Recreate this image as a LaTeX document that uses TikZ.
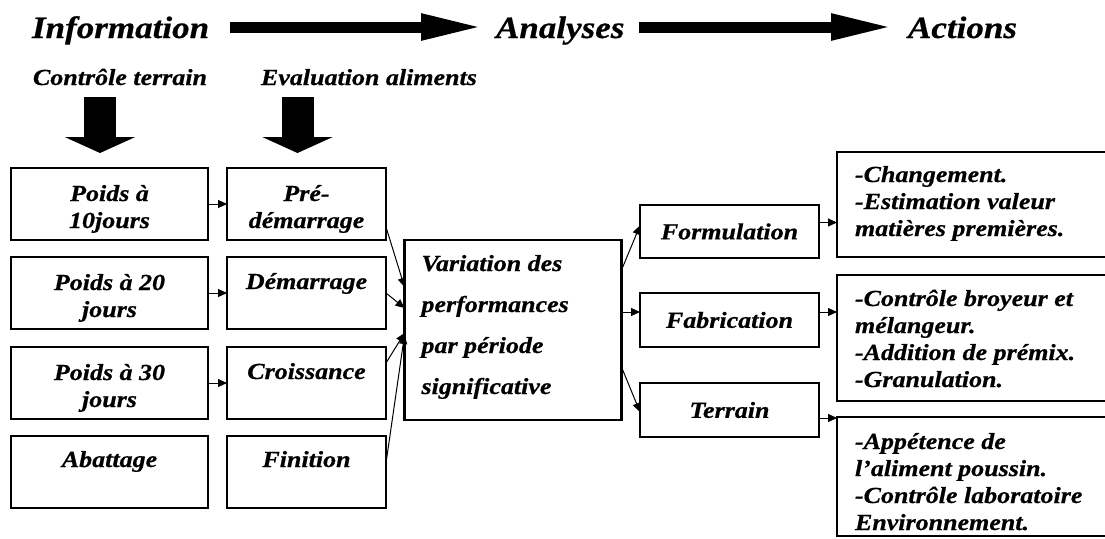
\documentclass[tikz,border=0pt]{standalone}
\usepackage{fontspec}
\setmainfont{Liberation Serif}[FakeStretch=1.13,FakeBold=0.6]
\usetikzlibrary{arrows.meta,calc}
\newcommand{\ctab}[1]{\begin{tabular}[t]{@{}c@{}}#1\end{tabular}}
\newcommand{\ltab}[1]{\begin{tabular}[t]{@{}l@{}}#1\end{tabular}}
\begin{document}
\begin{tikzpicture}[x=1pt,y=-1pt,
  every node/.style={inner sep=0pt,outer sep=0pt},
  box/.style={draw,line width=2.4pt},
  boxline/.style={line width=2.4pt},
  titlef/.style={font=\fontsize{31}{36}\selectfont\bfseries\itshape},
  txt/.style={font=\fontsize{23}{27}\selectfont\bfseries\itshape},
  ctxt/.style={font=\fontsize{23}{41}\selectfont\bfseries\itshape},
  bigarrow/.style={line width=11pt,-{Triangle[length=63pt,width=24pt]}},
  blockarrow/.style={line width=32pt,-{Triangle[length=16pt,width=70pt]}},
  sarrow/.style={line width=1pt,-{Triangle[length=9pt,width=8pt]}}]
\useasboundingbox (0,0) rectangle (1105,538);
\clip (0,0) rectangle (1105,538);

% titles
\node[titlef,anchor=base west] (info) at (32,38) {Information};
\node[titlef,anchor=base west] (ana) at (496,38) {Analyses};
\node[titlef,anchor=base west] (act) at (908,38) {Actions};
\draw[bigarrow,shorten <=21pt,shorten >=12pt] ([yshift=11pt]info.base east) -- ([yshift=11pt]ana.base west);
\draw[bigarrow,shorten <=15pt,shorten >=14pt] ([yshift=11pt]ana.base east) -- ([yshift=11pt]act.base west);

% subtitles
\node[txt,anchor=base west] (ct) at (33,85) {Contrôle terrain};
\node[txt,anchor=base west] (ev) at (261,85) {Evaluation aliments};
\coordinate (d1s) at (100,97);
\coordinate (d1e) at (100,153);
\coordinate (d2s) at (297.5,97);
\coordinate (d2e) at (297.5,153);
\draw[blockarrow] (d1s) -- (d1e);
\draw[blockarrow] (d2s) -- (d2e);

% column 1
\node[box,minimum width=197pt,minimum height=72pt] (p10) at (109.5,204) {};
\node[box,minimum width=197pt,minimum height=72pt] (p20) at (109.5,293) {};
\node[box,minimum width=197pt,minimum height=72pt] (p30) at (109.5,383) {};
\node[box,minimum width=197pt,minimum height=72pt] (aba) at (109.5,472) {};
\node[txt,anchor=base] (tp10) at ($(p10.north)+(0,33)$) {\ctab{Poids à\\10jours}};
\node[txt,anchor=base] (tp20) at ($(p20.north)+(0,33)$) {\ctab{Poids à 20\\jours}};
\node[txt,anchor=base] (tp30) at ($(p30.north)+(0,33)$) {\ctab{Poids à 30\\jours}};
\node[txt,anchor=base] (taba) at ($(aba.north)+(0,31)$) {Abattage};

% column 2
\node[box,minimum width=159pt,minimum height=72pt] (pre) at (306.5,204) {};
\node[box,minimum width=159pt,minimum height=72pt] (dem) at (306.5,293) {};
\node[box,minimum width=159pt,minimum height=72pt] (cro) at (306.5,383) {};
\node[box,minimum width=159pt,minimum height=72pt] (fin) at (306.5,472) {};
\node[txt,anchor=base] (tpre) at ($(pre.north)+(0,33)$) {\ctab{Pré-\\démarrage}};
\node[txt,anchor=base] (tdem) at ($(dem.north)+(0,32)$) {Démarrage};
\node[txt,anchor=base] (tcro) at ($(cro.north)+(0,32)$) {Croissance};
\node[txt,anchor=base] (tfin) at ($(fin.north)+(0,31)$) {Finition};

\draw[sarrow] (p10.east) -- (pre.west);
\draw[sarrow] (p20.east) -- (dem.west);
\draw[sarrow] (p30.east) -- (cro.west);

% centre
\node[box,minimum width=217pt,minimum height=180pt] (var) at (513,330) {};
\node[ctxt,anchor=base west] (tvar) at ($(var.north west)+(17,31)$) {\ltab{Variation des\\performances\\par période\\significative}};

\draw[sarrow] ($(pre.south east)+(0,-13)$) -- ($(var.west)+(0,-43)$);
\draw[sarrow] (dem.east) -- ($(var.west)+(0,-22)$);
\draw[sarrow] ($(cro.east)+(0,-20)$) -- ($(var.west)+(0,3)$);
\draw[sarrow] ($(fin.east)+(0,-9)$) -- ($(var.west)+(0,5)$);

% middle
\node[box,txt,minimum width=179pt,minimum height=53pt] (form) at (729.5,231.5) {Formulation};
\node[box,txt,minimum width=179pt,minimum height=54pt] (fab) at (729.5,320) {Fabrication};
\node[box,txt,minimum width=179pt,minimum height=54pt] (ter) at (729.5,410) {Terrain};

\draw[sarrow] ($(var.east)+(0,-60)$) -- ($(form.west)+(0,-6)$);
\draw[sarrow] ($(var.east)+(0,-18)$) -- ($(fab.west)+(0,-8)$);
\draw[sarrow] ($(var.east)+(0,37)$) -- ($(ter.west)+(0,2)$);

% right (boxes run past the right edge of the picture)
\node[minimum width=363pt,minimum height=105pt] (r1) at (1018.5,204.5) {};
\node[minimum width=363pt,minimum height=126pt] (r2) at (1018.5,338) {};
\node[minimum width=363pt,minimum height=119pt] (r3) at (1018.5,476.5) {};
\draw[boxline] (r1.north east) -- (r1.north west) -- (r1.south west) -- (r1.south east);
\draw[boxline] (r2.north east) -- (r2.north west) -- (r2.south west) -- (r2.south east);
\draw[boxline] (r3.north east) -- (r3.north west) -- (r3.south west) -- (r3.south east);
\node[txt,anchor=base west] (tr1) at ($(r1.north west)+(18,30)$) {\ltab{-Changement.\\-Estimation valeur\\matières premières.}};
\node[txt,anchor=base west] (tr2) at ($(r2.north west)+(18,31)$) {\ltab{-Contrôle broyeur et\\mélangeur.\\-Addition de prémix.\\-Granulation.}};
\node[txt,anchor=base west] (tr3) at ($(r3.north west)+(18,32)$) {\ltab{-Appétence de\\l’aliment poussin.\\-Contrôle laboratoire\\Environnement.}};

\draw[sarrow] ([yshift=9pt]form.east) -- ([yshift=9pt]form.east -| r1.west);
\draw[sarrow] ([yshift=8pt]fab.east) -- ([yshift=8pt]fab.east -| r2.west);
\draw[sarrow] ([yshift=-8pt]ter.east) -- ([yshift=-8pt]ter.east -| r3.west);
\end{tikzpicture}
\end{document}
